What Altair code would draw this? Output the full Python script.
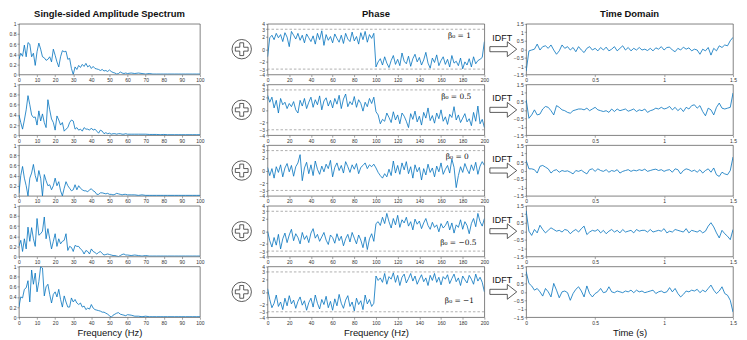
import math
import altair as alt
import pandas as pd

BLUE = "#0072BD"
FONT = "Liberation Sans"

# ---------------- data ----------------
amp_freq = [0, 1, 2, 3, 4, 5, 6, 7, 8, 9, 10, 11, 12, 13, 14, 15, 16, 17, 18, 19,
            20, 21, 22, 23, 24, 25, 26, 27, 28, 29, 30, 31, 32, 33, 34, 35, 36, 37, 38, 39,
            40, 41, 42, 43, 44, 45, 46, 47, 48, 49, 50, 51, 52, 53, 54, 55, 56, 57, 58, 59,
            60, 62, 64, 66, 68, 70, 72, 74, 76, 78, 80, 82, 84, 86, 88, 90, 92, 94, 96, 98, 100]

amp1 = [0.30, 0.42, 0.36, 0.58, 0.35, 0.63, 0.60, 0.35, 0.42, 0.18,
        0.45, 0.62, 0.50, 0.35, 0.33, 0.28, 0.30, 0.35, 0.25, 0.50,
        0.38, 0.25, 0.15, 0.35, 0.47, 0.45, 0.46, 0.30, 0.32, 0.12,
        0.00, 0.15, 0.10, 0.18, 0.14, 0.20, 0.16, 0.22, 0.15, 0.18,
        0.12, 0.16, 0.12, 0.11, 0.10, 0.08, 0.10, 0.07, 0.08, 0.06,
        0.09, 0.06, 0.04, 0.03, 0.01, 0.02, 0.05, 0.03, 0.02, 0.03,
        0.02, 0.03, 0.02, 0.03, 0.02, 0.01, 0.02, 0.01, 0.01, 0.01,
        0.01, 0.01, 0.01, 0.01, 0.01, 0.01, 0.01, 0.01, 0.01, 0.01, 0.01]
amp2 = [0.40, 0.25, 0.12, 0.30, 0.50, 0.78, 0.60, 0.40, 0.35, 0.36,
        0.20, 0.48, 0.28, 0.42, 0.25, 0.15, 0.70, 0.50, 0.32, 0.25,
        0.10, 0.38, 0.30, 0.20, 0.25, 0.08, 0.12, 0.15, 0.25, 0.30,
        0.28, 0.12, 0.15, 0.10, 0.12, 0.08, 0.15, 0.12, 0.12, 0.10,
        0.14, 0.10, 0.12, 0.08, 0.04, 0.10, 0.08, 0.03, 0.05, 0.03,
        0.04, 0.02, 0.03, 0.03, 0.02, 0.03, 0.03, 0.02, 0.02, 0.03,
        0.02, 0.02, 0.02, 0.02, 0.02, 0.02, 0.015, 0.015, 0.015, 0.01,
        0.015, 0.01, 0.01, 0.01, 0.01, 0.01, 0.01, 0.01, 0.01, 0.01, 0.01]
amp3 = [0.05, 0.40, 0.58, 0.35, 0.20, 0.00, 0.35, 0.45, 0.62, 0.40,
        0.28, 0.50, 0.35, 0.00, 0.42, 0.30, 0.20, 0.22, 0.12, 0.20,
        0.35, 0.20, 0.28, 0.10, 0.00, 0.15, 0.28, 0.20, 0.15, 0.10,
        0.12, 0.22, 0.12, 0.20, 0.15, 0.12, 0.10, 0.10, 0.08, 0.12,
        0.14, 0.10, 0.08, 0.03, 0.03, 0.06, 0.06, 0.05, 0.04, 0.05,
        0.03, 0.03, 0.02, 0.03, 0.05, 0.04, 0.03, 0.02, 0.03, 0.03,
        0.02, 0.02, 0.02, 0.01, 0.02, 0.01, 0.01, 0.01, 0.01, 0.01,
        0.01, 0.01, 0.01, 0.01, 0.01, 0.01, 0.01, 0.01, 0.01, 0.01, 0.01]
amp4 = [0.20, 0.32, 0.10, 0.35, 0.15, 0.58, 0.30, 0.57, 0.35, 0.20,
        0.75, 0.42, 0.45, 0.50, 0.78, 0.35, 0.55, 0.35, 0.15, 0.30,
        0.45, 0.20, 0.35, 0.25, 0.30, 0.32, 0.45, 0.12, 0.20, 0.18,
        0.10, 0.22, 0.20, 0.20, 0.15, 0.12, 0.05, 0.12, 0.10, 0.05,
        0.15, 0.10, 0.08, 0.05, 0.08, 0.10, 0.06, 0.03, 0.04, 0.05,
        0.04, 0.03, 0.02, 0.02, 0.01, 0.00, 0.02, 0.04, 0.05, 0.03,
        0.03, 0.02, 0.03, 0.02, 0.01, 0.02, 0.01, 0.01, 0.01, 0.01,
        0.01, 0.01, 0.01, 0.01, 0.01, 0.01, 0.01, 0.01, 0.01, 0.01, 0.01]
amp5 = [0.20, 0.40, 0.38, 0.55, 0.58, 0.72, 0.30, 0.93, 0.65, 0.87,
        0.50, 0.70, 1.00, 0.97, 0.42, 0.60, 0.65, 0.45, 0.28, 0.45,
        0.50, 0.40, 0.55, 0.35, 0.20, 0.42, 0.30, 0.20, 0.20, 0.38,
        0.30, 0.35, 0.28, 0.25, 0.28, 0.20, 0.22, 0.15, 0.18, 0.16,
        0.25, 0.18, 0.15, 0.14, 0.13, 0.12, 0.10, 0.10, 0.08, 0.06,
        0.03, 0.00, 0.04, 0.06, 0.08, 0.09, 0.06, 0.05, 0.04, 0.03,
        0.05, 0.04, 0.02, 0.02, 0.01, 0.02, 0.01, 0.01, 0.01, 0.01,
        0.01, 0.01, 0.01, 0.01, 0.01, 0.01, 0.01, 0.01, 0.01, 0.01, 0.01]

phase_freq = list(range(0, 201, 2))

phase1 = [-1.2, 1.8, 2.2, 1.5, 2.5, 1.8, 2.3, 1.2, 2.6, 1.9,
          0.4, 2.8, 2.2, 1.6, 2.5, 1.4, 2.2, 1.0, 2.4, 1.8,
          1.2, 2.1, 0.8, 2.5, 1.5, 2.9, 0.6, 2.3, 1.4, 2.0,
          1.0, 2.4, 1.7, 1.1, 2.2, 0.9, 2.5, 1.6, 1.2, 2.7,
          1.3, 2.0, 0.8, 2.6, 1.5, 2.8, 1.1, 2.3, 1.7, 2.5,
          -2.8, -2.0, -1.5, -2.5, -1.2, -2.2, -2.9, -1.8, -1.0, -2.4,
          -1.6, -2.6, -0.6, -1.9, -2.3, -1.1, -2.7, -1.5, -0.8, -2.0,
          -1.3, -2.5, -1.7, -0.5, -2.2, -3.0, -1.4, -2.1, -0.9, -2.6,
          -1.8, -1.2, -2.4, -1.6, -2.8, -1.0, -2.2, -1.9, -2.6, -1.4,
          -3.1, -2.0, -2.5, -1.5, -2.8, -1.2, -2.3, -1.8, -1.6, -1.3,
          1.2]
phase2 = [2.3, 1.2, 2.0, 0.3, 1.5, -0.5, 1.8, 0.8, 1.2, 0.2,
          1.0, 0.5, 1.3, 0.0, -0.5, 1.5, 0.6, 1.8, 0.2, 1.2,
          2.0, 0.4, 1.6, 0.8, 2.2, 0.0, 1.4, 1.9, 0.6, 1.5,
          0.3, 1.8, 0.9, 2.3, 0.2, 1.7, 2.5, 0.5, 1.3, 0.8,
          2.1, 0.4, 1.6, 1.0, -0.2, 1.2, 0.5, 1.8, 1.0, 2.0,
          -0.3, -0.8, -2.2, -1.5, -1.8, -0.5, -1.2, -2.0, -0.3, -1.6,
          -0.8, -2.2, -0.5, -1.0, -1.8, -2.8, -0.6, -1.5, -0.2, -1.9,
          -1.0, -2.4, -0.4, -1.3, 0.3, -1.7, -0.9, -2.1, -0.5, -1.4,
          0.0, -1.8, -1.1, -2.3, -0.7, -1.2, 0.5, -1.6, -0.8, -2.0,
          -1.3, -0.6, -1.9, -1.4, -2.5, -0.4, -1.8, 0.6, -2.2, -1.5,
          -2.8]
phase3 = [0.5, -0.8, 0.3, -1.2, 0.6, -0.3, 0.9, -1.0, 0.4, 1.1,
          -0.2, 0.8, -0.9, 0.6, 1.2, 2.5, -1.6, 0.4, 1.3, -0.5,
          0.9, -0.8, 1.5, 0.2, -0.6, 0.7, -0.2, 1.0, 0.3, 1.6,
          -1.0, 0.5, 1.2, 0.0, 0.8, -0.4, 1.4, 0.6, -0.3, 0.9,
          0.2, 1.1, -0.5, 0.5, 0.8, 1.2, 0.3, 0.9, 0.6, 1.0,
          0.4, -0.3, -0.8, -1.2, -0.5, -1.0, 0.2, -0.8, 1.5, -0.4,
          0.8, -0.6, 1.2, 0.1, 1.4, -0.5, 0.6, -1.2, 0.9, -0.2,
          0.5, -1.5, 0.3, -0.7, 1.0, -0.3, 0.4, -1.0, 0.7, -0.2,
          1.2, -0.6, 0.2, 0.8, -0.4, 1.8, 0.5, -2.7, -0.8, 0.6,
          -0.3, 1.1, 0.2, -0.5, 0.9, 0.0, 1.3, -0.6, 0.7, 1.4,
          0.8]
phase4 = [0.0, -1.5, -2.5, -1.0, -2.2, -0.5, -2.8, -1.2, -0.3, -1.8,
          -0.6, 0.3, -1.5, -0.4, -1.0, -2.0, -0.2, -1.3, -0.7, -1.8,
          -0.3, 0.4, -1.1, -0.5, -1.6, -0.9, -0.2, -1.4, -2.1, -0.6,
          -1.0, -1.9, -0.4, -1.5, -0.8, -2.3, -1.2, -0.5, -1.7, -0.2,
          -1.1, -2.0, -0.6, -1.4, -2.6, -0.9, -2.9, -1.2, -0.4, -1.6,
          1.2, 1.5, 0.9, 2.2, 1.2, 2.8, 1.5, 0.5, 2.0, 1.0,
          2.5, 0.6, 1.8, 1.3, 2.2, 0.8, 1.5, 0.2, 1.9, 1.1,
          1.6, 0.4, 1.3, 2.0, 0.9, 0.3, 1.4, 0.6, 1.0, -0.1,
          1.2, 0.5, 0.9, 1.6, 0.2, 1.3, -0.3, 1.0, 0.6, 1.8,
          0.3, 1.5, 0.9, -0.4, 1.2, 2.0, 0.7, 2.8, 1.5, 0.8,
          2.0]
phase5 = [0.5, -1.2, -2.5, -1.8, -0.5, -2.3, -1.6, -2.8, -1.0, -2.2,
          -0.6, -1.9, -1.3, -2.6, -1.5, -0.8, -2.1, -1.4, -2.9, -1.7,
          -1.0, -2.4, -0.5, -1.8, -2.7, -1.2, -2.0, -0.7, -2.5, -1.5,
          -2.9, -1.1, -2.2, -0.4, -1.8, -2.6, -1.3, -0.6, -2.3, -1.6,
          -3.0, -1.0, -2.0, -1.4, -2.8, -0.5, -1.9, -1.2, -2.3, -1.8,
          2.5, 1.8, 2.2, 1.5, 2.9, 1.2, 2.4, 2.0, 3.0, 1.5,
          2.6, 1.0, 2.3, 2.8, 1.4, 2.1, 2.9, 1.7, 2.5, 1.2,
          2.0, 2.7, 1.6, 2.2, 1.0, 2.6, 1.8, 2.9, 1.5, 2.3,
          1.1, 2.4, 2.0, 2.7, 1.3, 2.1, 2.8, 1.6, 2.2, 1.0,
          2.5, 1.9, 1.4, 2.6, 2.0, 1.2, 2.8, 1.7, 2.3, 1.5,
          0.0]

time1 = [-1.3, -0.1, -0.05, 0.0, 0.3, -0.05, 0.15, 0.2, 0.05, 0.25,
         -0.05, -0.3, -0.1, 0.25, 0.05, 0.15, -0.05, 0.1, -0.15, 0.15,
         -0.05, -0.2, 0.05, 0.15, -0.05, 0.05, -0.1, 0.1, -0.05, 0.12,
         -0.1, 0.0, 0.15, -0.1, 0.05, 0.2, -0.05, 0.1, -0.1, 0.05,
         -0.05, 0.1, -0.05, 0.0, -0.08, 0.05, -0.1, 0.08, 0.0, 0.15,
         -0.05, 0.1, 0.12, -0.05, -0.15, 0.05, -0.05, 0.12, 0.0, 0.08,
         -0.1, 0.0, -0.05, -0.3, 0.0, -0.1, 0.1, -0.35, 0.05, -0.1,
         0.2, 0.1, 0.25, 0.2, 0.5, 0.7]
time2 = [0.6, -0.5, -0.3, 0.0, -0.3, -0.25, 0.05, 0.2, 0.15, -0.05,
         -0.3, 0.25, 0.15, 0.0, -0.05, -0.15, -0.2, -0.05, 0.0, 0.05,
         0.05, 0.0, 0.1, -0.05, 0.05, 0.15, 0.0, -0.05, -0.1, -0.05,
         -0.15, 0.05, -0.1, 0.05, -0.05, 0.0, 0.05, -0.08, -0.02, 0.05,
         -0.1, 0.0, -0.05, 0.05, -0.15, -0.05, 0.0, 0.1, 0.05, 0.15,
         0.05, 0.1, 0.2, 0.0, 0.15, -0.05, 0.1, -0.1, 0.15, 0.05,
         0.25, 0.3, 0.1, 0.25, -0.1, -0.35, 0.1, 0.0, -0.3, 0.15,
         0.4, 0.1, 0.05, 0.1, 0.15, 1.0]
time3 = [0.6, 0.1, 0.1, 0.05, -0.15, 0.25, 0.3, 0.2, 0.1, -0.15,
         0.0, 0.05, -0.1, 0.0, -0.05, -0.02, -0.1, -0.2, 0.0, -0.05,
         0.02, -0.1, -0.2, 0.05, 0.1, -0.05, 0.1, 0.0, -0.05, 0.05,
         -0.1, 0.0, -0.05, 0.05, -0.15, -0.05, 0.0, 0.05, -0.05, 0.02,
         -0.02, 0.05, 0.0, 0.08, -0.05, 0.0, 0.05, 0.08, 0.0, 0.05,
         -0.05, 0.02, 0.05, -0.1, 0.1, 0.05, -0.2, 0.0, 0.1, 0.05,
         -0.05, 0.02, -0.1, 0.05, -0.15, 0.0, 0.1, -0.1, 0.15, -0.25,
         -0.35, -0.1, -0.2, -0.25, 0.0, 0.8]
time4 = [1.2, 0.0, -0.25, 0.1, -0.1, 0.35, 0.1, -0.1, 0.05, 0.2,
         0.1, 0.0, 0.05, -0.05, 0.1, 0.05, -0.15, 0.0, 0.1, -0.05,
         0.15, 0.3, -0.2, -0.05, 0.05, 0.0, 0.1, -0.1, 0.05, -0.15,
         0.0, 0.1, -0.05, 0.05, -0.1, 0.1, -0.05, 0.0, 0.05, -0.1,
         0.1, 0.0, 0.05, 0.05, -0.05, 0.1, -0.05, 0.0, 0.05, 0.0,
         0.15, -0.1, 0.0, -0.05, 0.1, 0.05, 0.0, -0.05, 0.15, -0.1,
         0.05, 0.0, -0.05, 0.05, -0.1, 0.0, 0.3, 0.5, 0.25, -0.1,
         -0.4, 0.05, -0.15, -0.3, -0.5, 0.1]
time5 = [1.2, 0.5, 0.35, 0.1, 0.2, 0.0, -0.25, 0.2, 0.0, -0.3,
         0.5, 0.1, -0.35, 0.0, 0.05, -0.05, -0.5, -0.1, 0.15, 0.3,
         0.05, -0.3, 0.35, -0.1, -0.3, -0.1, 0.0, 0.2, -0.05, 0.0,
         0.3, 0.0, -0.05, 0.05, 0.0, -0.05, 0.05, 0.0, 0.1, -0.05,
         0.1, 0.0, 0.05, -0.05, 0.0, 0.05, 0.1, -0.1, 0.0, 0.05,
         -0.05, 0.0, 0.25, 0.0, 0.2, -0.1, -0.3, -0.15, 0.05, 0.0,
         0.1, 0.05, 0.15, -0.05, 0.1, 0.0, 0.2, 0.4, 0.1, -0.1,
         0.05, 0.3, -0.1, -0.2, -0.5, -1.2]
time_grid = [round(i * 0.02, 2) for i in range(76)]

beta_labels = ["β₀ = 1", "β₀ = 0.5", "β₀ = 0", "β₀ = −0.5", "β₀ = −1"]
beta_x = [177, 174, 175, 176, 177]
beta_y = [2.0, 2.1, 2.2, -1.9, -1.5]

amp_series = [amp1, amp2, amp3, amp4, amp5]
phase_series = [phase1, phase2, phase3, phase4, phase5]
time_series = [time1, time2, time3, time4, time5]

col_titles = ["Single-sided Amplitude Spectrum", "Phase", "Time Domain"]
x_titles = ["Frequency (Hz)", "Frequency (Hz)", "Time (s)"]

amp_xticks = [0, 10, 20, 30, 40, 50, 60, 70, 80, 90, 100]
amp_yticks = [0, 0.2, 0.4, 0.6, 0.8, 1]
phase_xticks = [0, 20, 40, 60, 80, 100, 120, 140, 160, 180, 200]
phase_yticks = [-4, -math.pi, -2, 0, 2, math.pi, 4]
time_xticks = [0, 0.5, 1, 1.5]
time_yticks = [-1.5, -1, -0.5, 0, 0.5, 1, 1.5]

# ---------------- layout ----------------
W_AMP, W_GAP1, W_PH, W_GAP2, W_TD = 182, 68, 218, 42, 208
H = 51

CROSS = ("M-0.2,-0.66L0.2,-0.66L0.2,-0.2L0.66,-0.2L0.66,0.2L0.2,0.2L0.2,0.66"
         "L-0.2,0.66L-0.2,0.2L-0.66,0.2L-0.66,-0.2L-0.2,-0.2Z")
ARROW = "M-1,-0.19L0.3,-0.19L0.3,-0.55L1,0L0.3,0.55L0.3,0.19L-1,0.19Z"

line_kw = dict(color=BLUE, strokeWidth=0.8, clip=True)


def title_for(col, i):
    if i == 0:
        return dict(title=alt.TitleParams(col_titles[col], fontSize=9.5, font=FONT,
                                          fontWeight="bold", color="#111", offset=3))
    return {}


def xaxis(col, i, values, fmt):
    return alt.Axis(values=values, format=fmt, labelFlush=False, labelOverlap=False,
                    title=x_titles[col] if i == 4 else None)


def yaxis(values, fmt):
    return alt.Axis(values=values, format=fmt, labelOverlap=False, title=None)


def amp_panel(i):
    df = pd.DataFrame({"f": amp_freq, "a": amp_series[i]})
    ch = alt.Chart(df).mark_line(**line_kw).encode(
        x=alt.X("f:Q", scale=alt.Scale(domain=[0, 100], nice=False),
                axis=xaxis(0, i, amp_xticks, "d")),
        y=alt.Y("a:Q", scale=alt.Scale(domain=[0, 1], nice=False),
                axis=yaxis(amp_yticks, "~g")),
    )
    return ch.properties(width=W_AMP, height=H, **title_for(0, i))


def phase_panel(i):
    df = pd.DataFrame({"f": phase_freq, "p": phase_series[i]})
    xs = alt.X("f:Q", scale=alt.Scale(domain=[0, 200], nice=False),
               axis=xaxis(1, i, phase_xticks, "d"))
    ys = alt.Y("p:Q", scale=alt.Scale(domain=[-4, 4], nice=False),
               axis=yaxis(phase_yticks, ".0f"))
    line = alt.Chart(df).mark_line(**line_kw).encode(x=xs, y=ys)
    rules = alt.Chart(pd.DataFrame({"p": [-math.pi, math.pi]})).mark_rule(
        color="#8c8c8c", strokeWidth=0.7, strokeDash=[2.5, 2]).encode(y=ys)
    lab = alt.Chart(pd.DataFrame({"f": [beta_x[i]], "p": [beta_y[i]], "t": [beta_labels[i]]})
                    ).mark_text(font="DejaVu Serif", fontSize=7.5, color="#111").encode(
        x=xs, y=ys, text="t:N")
    return alt.layer(line, rules, lab).properties(width=W_PH, height=H, **title_for(1, i))


def time_panel(i):
    df = pd.DataFrame({"t": time_grid, "v": time_series[i]})
    ch = alt.Chart(df).mark_line(**line_kw).encode(
        x=alt.X("t:Q", scale=alt.Scale(domain=[0, 1.5], nice=False),
                axis=xaxis(2, i, time_xticks, "~g")),
        y=alt.Y("v:Q", scale=alt.Scale(domain=[-1.5, 1.5], nice=False),
                axis=yaxis(time_yticks, "~g")),
    )
    return ch.properties(width=W_TD, height=H, **title_for(2, i))


dummy = pd.DataFrame({"k": [0]})


def plus_cell():
    circ = alt.Chart(dummy).mark_point(shape="circle", size=380, filled=False,
                                       color="#333", strokeWidth=0.8, opacity=1).encode(
        x=alt.value(42), y=alt.value(H / 2))
    cross = alt.Chart(dummy).mark_point(shape=CROSS, size=380, filled=False,
                                        color="#333", strokeWidth=0.8, opacity=1).encode(
        x=alt.value(42), y=alt.value(H / 2))
    return alt.layer(circ, cross).properties(
        width=W_GAP1, height=H, view=alt.ViewBackground(stroke="transparent"))


def idft_cell():
    arrow = alt.Chart(dummy).mark_point(shape=ARROW, size=729, filled=False,
                                        color="#333", strokeWidth=0.8, opacity=1).encode(
        x=alt.value(19), y=alt.value(H / 2))
    txt = alt.Chart(dummy).mark_text(text="IDFT", font=FONT, fontSize=9, color="#111").encode(
        x=alt.value(18), y=alt.value(14))
    return alt.layer(arrow, txt).properties(
        width=W_GAP2, height=H, view=alt.ViewBackground(stroke="transparent"))


cells = []
for i in range(5):
    cells += [amp_panel(i), plus_cell(), phase_panel(i), idft_cell(), time_panel(i)]

chart = alt.ConcatChart(
    concat=cells, columns=5, spacing={"row": 10, "column": 0}, bounds="flush"
).properties(
    padding={"left": 0, "top": 0, "right": 2, "bottom": 2}
).configure_view(
    stroke="#4d4d4d", strokeWidth=0.7
).configure_axis(
    labelFontSize=5, labelFont=FONT, labelColor="#333", tickColor="#666",
    tickSize=2, tickWidth=0.6, domain=False, grid=False, labelPadding=1,
    titleFontSize=9.5, titleFont=FONT, titleFontWeight="normal", titleColor="#111",
    titlePadding=2
)

chart.save("out.html", embed_options={"renderer": "svg", "actions": False})
